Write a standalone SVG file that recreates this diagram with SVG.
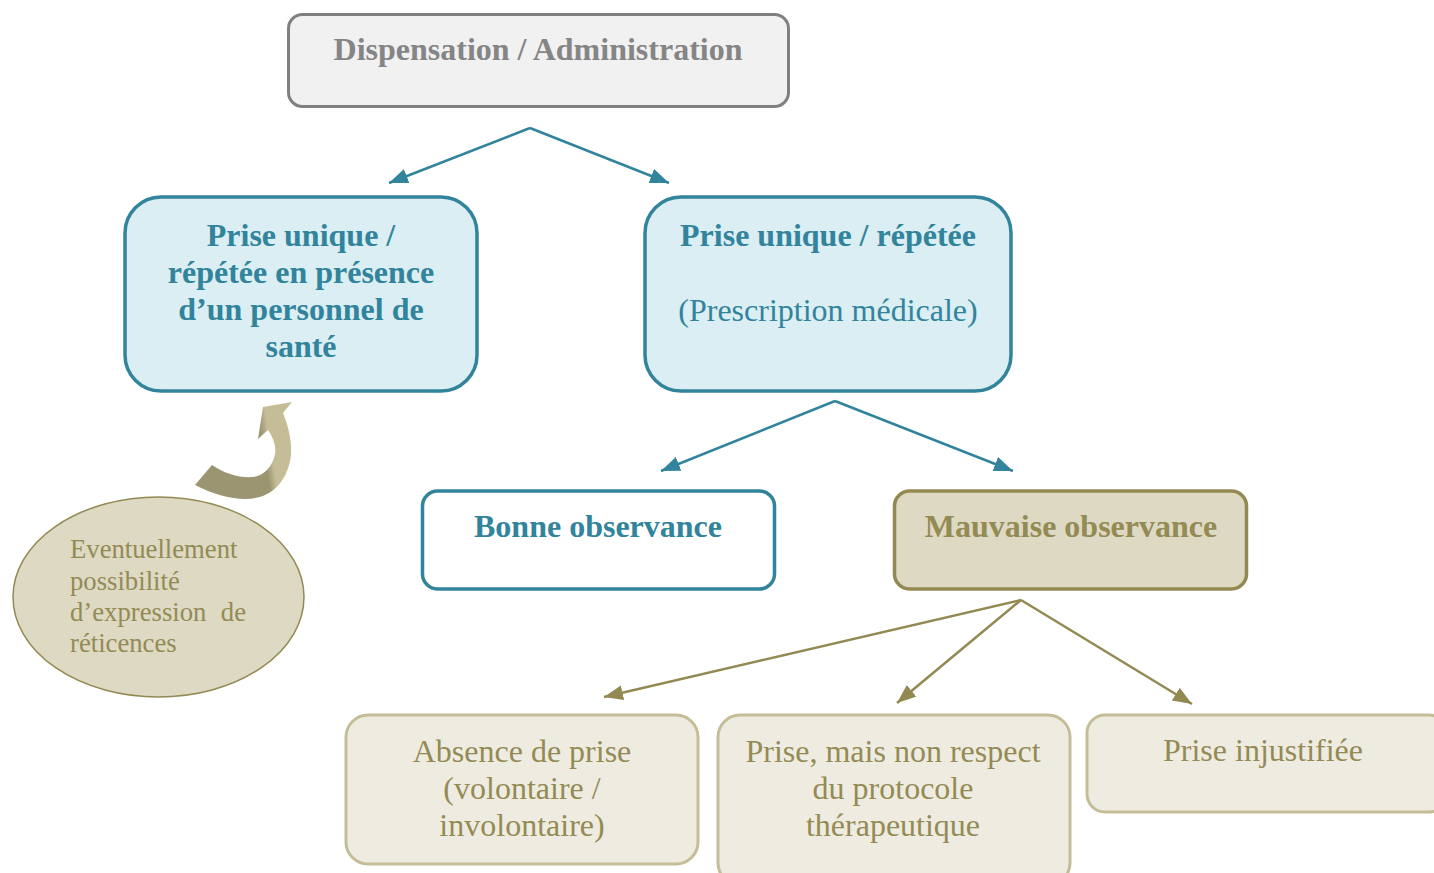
<svg xmlns="http://www.w3.org/2000/svg" width="1434" height="873" viewBox="0 0 1434 873">
<style>
text{font-family:"Liberation Serif","Times New Roman",serif;font-size:32px;text-anchor:middle}
.b{font-weight:bold}
.teal{fill:#31849B}
.olive{fill:#948A54}
.gray{fill:#858585}
.tbox{fill:#DAEEF3;stroke:#31849B;stroke-width:3.5}
.obox{fill:#EEECE1;stroke:#C4BD97;stroke-width:3}
.tl{stroke:#31849B;stroke-width:2.5;fill:none;marker-end:url(#ta)}
.ol{stroke:#938953;stroke-width:2.5;fill:none;marker-end:url(#oa)}
.el{font-size:26.7px;text-anchor:start}
</style>
<defs>
<marker id="ta" markerUnits="userSpaceOnUse" markerWidth="22" markerHeight="18" refX="19" refY="7.5" orient="auto"><path d="M0,0 L19,7.5 L0,15 Z" fill="#31849B"/></marker>
<marker id="oa" markerUnits="userSpaceOnUse" markerWidth="22" markerHeight="18" refX="19" refY="7.5" orient="auto"><path d="M0,0 L19,7.5 L0,15 Z" fill="#938953"/></marker>
<linearGradient id="cg" x1="196" y1="470" x2="292" y2="455" gradientUnits="userSpaceOnUse">
<stop offset="0" stop-color="#9C9572"/><stop offset="0.72" stop-color="#9C9572"/><stop offset="0.8" stop-color="#C4BD97"/><stop offset="1" stop-color="#C4BD97"/>
</linearGradient>
</defs>
<g id="connectors">
<path class="tl" d="M530,128 L389,183"/>
<path class="tl" d="M530,128 L669,183"/>
<path class="tl" d="M835,401 L661,471"/>
<path class="tl" d="M835,401 L1013,471"/>
<path class="ol" d="M1021,600 L604,697"/>
<path class="ol" d="M1021,600 L897,703"/>
<path class="ol" d="M1021,600 L1192,704"/>
<path id="curved-arrow" fill="url(#cg)" d="M195,485 L212,465 C225,474 240,478 253,477 C263,476 271,468 274,458 C277,450 275,440 268,430 L258,439 L263,407 L292,402 L283,413 C288,425 292,440 291,455 C289,473 280,489 263,496 C247,502 222,499 195,485 Z"/>
</g>
<g id="dispensation">
<rect x="288.5" y="14.5" width="500" height="92" rx="14" fill="#F1F1F1" stroke="#808080" stroke-width="3"/>
<text class="b gray" x="538" y="60">Dispensation / Administration</text>
</g>
<g id="prise-presence">
<rect class="tbox" x="125" y="197" width="352" height="194" rx="36"/>
<text class="b teal" x="301" y="246">Prise unique /</text>
<text class="b teal" x="301" y="283">répétée en présence</text>
<text class="b teal" x="301" y="320">d’un personnel de</text>
<text class="b teal" x="301" y="357">santé</text>
</g>
<g id="prise-prescription">
<rect class="tbox" x="645" y="197" width="366" height="194" rx="36"/>
<text class="b teal" x="828" y="246">Prise unique / répétée</text>
<text class="teal" x="828" y="321">(Prescription médicale)</text>
</g>
<g id="bonne">
<rect x="422.5" y="491" width="352" height="98" rx="15" fill="#FFFFFF" stroke="#31849B" stroke-width="3.5"/>
<text class="b teal" x="598" y="537">Bonne observance</text>
</g>
<g id="mauvaise">
<rect x="894.5" y="491" width="352" height="98" rx="15" fill="#DDD9C3" stroke="#938953" stroke-width="3.5"/>
<text class="b olive" x="1071" y="537">Mauvaise observance</text>
</g>
<g id="reticences">
<ellipse cx="158.5" cy="597" rx="145.5" ry="100" fill="#DDD9C3" stroke="#938953" stroke-width="1.5"/>
<text class="el olive" x="70" y="558">Eventuellement</text>
<text class="el olive" x="70" y="590">possibilité</text>
<text class="el olive" x="70" y="621">d’expression</text>
<text class="el olive" x="246" y="621" style="text-anchor:end">de</text>
<text class="el olive" x="70" y="652">réticences</text>
</g>
<g id="absence">
<rect class="obox" x="346" y="715" width="352" height="149" rx="22"/>
<text class="olive" x="522" y="762">Absence de prise</text>
<text class="olive" x="522" y="799">(volontaire /</text>
<text class="olive" x="522" y="836">involontaire)</text>
</g>
<g id="non-respect">
<rect class="obox" x="718" y="715" width="352" height="170" rx="22"/>
<text class="olive" x="893" y="762">Prise, mais non respect</text>
<text class="olive" x="893" y="799">du protocole</text>
<text class="olive" x="893" y="836">thérapeutique</text>
</g>
<g id="injustifiee">
<rect class="obox" x="1087" y="715" width="360" height="97" rx="18"/>
<text class="olive" x="1263" y="761">Prise injustifiée</text>
</g>
</svg>
